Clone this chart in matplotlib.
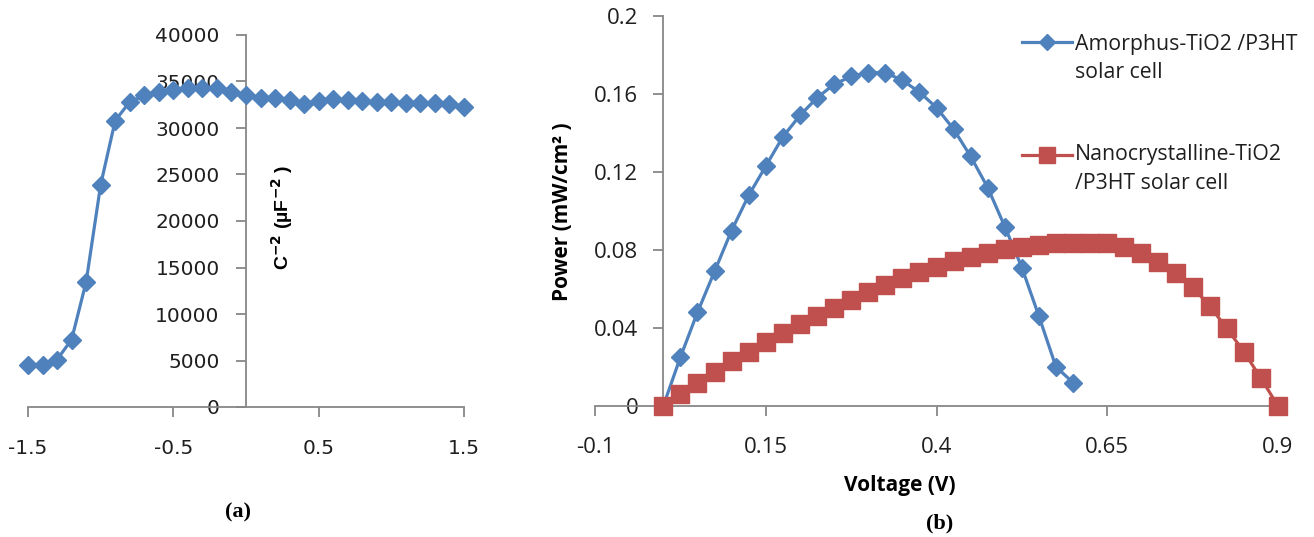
import matplotlib
matplotlib.use("Agg")
import matplotlib.pyplot as plt
from matplotlib.lines import Line2D

# ---- data: panel (a) Mott-Schottky ----
bias_v = [-1.5, -1.4, -1.3, -1.2, -1.1, -1.0, -0.9, -0.8, -0.7, -0.6, -0.5,
          -0.4, -0.3, -0.2, -0.1, 0.0, 0.1, 0.2, 0.3, 0.4, 0.5, 0.6, 0.7,
          0.8, 0.9, 1.0, 1.1, 1.2, 1.3, 1.4, 1.5]
c_inv2 = [4500, 4500, 5100, 7250, 13450, 23900, 30800, 32800, 33500, 33850, 34100,
          34250, 34300, 34250, 33900, 33550, 33250, 33250, 33000, 32600, 32850,
          33100, 33050, 32900, 32800, 32800, 32700, 32700, 32700, 32600, 32250]
a_xticks = [-1.5, -0.5, 0.5, 1.5]
a_xticklabels = ["-1.5", "-0.5", "0.5", "1.5"]
a_yticks = [0, 5000, 10000, 15000, 20000, 25000, 30000, 35000, 40000]

# ---- data: panel (b) power curves ----
amor_v = [0.0, 0.025, 0.05, 0.075, 0.1, 0.125, 0.15, 0.175, 0.2, 0.225, 0.25,
          0.275, 0.3, 0.325, 0.35, 0.375, 0.4, 0.425, 0.45, 0.475, 0.5, 0.525,
          0.55, 0.575, 0.6]
amor_p = [0.0, 0.025, 0.048, 0.069, 0.090, 0.108, 0.123, 0.138, 0.149, 0.158, 0.165,
          0.169, 0.171, 0.171, 0.167, 0.161, 0.153, 0.142, 0.128, 0.112, 0.092, 0.071,
          0.046, 0.020, 0.012]
nano_v = [0.0, 0.025, 0.05, 0.075, 0.1, 0.125, 0.15, 0.175, 0.2, 0.225, 0.25,
          0.275, 0.3, 0.325, 0.35, 0.375, 0.4, 0.425, 0.45, 0.475, 0.5, 0.525,
          0.55, 0.575, 0.6, 0.625, 0.65, 0.675, 0.7, 0.725, 0.75, 0.775, 0.8,
          0.825, 0.85, 0.875, 0.9]
nano_p = [0.0, 0.006, 0.0116, 0.0173, 0.0231, 0.0279, 0.0327, 0.0373, 0.0419, 0.0462, 0.0504,
          0.0545, 0.0586, 0.0623, 0.0655, 0.0685, 0.0712, 0.0742, 0.0766, 0.0786, 0.0805, 0.0817,
          0.0826, 0.0834, 0.0838, 0.0838, 0.0834, 0.0817, 0.0783, 0.0740, 0.0680, 0.0609, 0.0513,
          0.0398, 0.0279, 0.0142, 0.0]
b_xticks = [-0.1, 0.15, 0.4, 0.65, 0.9]
b_xticklabels = ["-0.1", "0.15", "0.4", "0.65", "0.9"]
b_yticks = [0, 0.04, 0.08, 0.12, 0.16, 0.2]
b_yticklabels = ["0", "0.04", "0.08", "0.12", "0.16", "0.2"]
legend_lines = [["Amorphus-TiO2 /P3HT", "solar cell"],
                ["Nanocrystalline-TiO2", "/P3HT solar cell"]]

BLUE = "#4F81BD"
RED = "#C0504D"
AXC = "#878787"
TXT = "#1f1f1f"

W, H = 1314, 537
fig = plt.figure(figsize=(W / 100, H / 100), dpi=100)
fig.patch.set_facecolor("white")


def fx(px):
    return px / W


def fy(py):
    return 1 - py / H


def style_axes(ax):
    for s in ["top", "right"]:
        ax.spines[s].set_visible(False)
    ax.spines["left"].set_position(("data", 0))
    for s in ["left", "bottom"]:
        ax.spines[s].set_color(AXC)
        ax.spines[s].set_linewidth(1.3)


# ---------------- panel (a) ----------------
axa = fig.add_axes([fx(28), fy(407), fx(464 - 28), (407 - 35) / H])
axa.plot(bias_v, c_inv2, color=BLUE, lw=2.3, marker="D", ms=9,
         mec=BLUE, mfc=BLUE, clip_on=False, zorder=3)
axa.set_xlim(-1.5, 1.5)
axa.set_ylim(0, 40000)
style_axes(axa)
axa.set_xticks(a_xticks)
axa.set_xticklabels(a_xticklabels)
axa.set_yticks(a_yticks)
axa.set_yticklabels([str(v) for v in a_yticks])
axa.tick_params(axis="both", direction="out", length=7, width=1.3, color=AXC,
                labelsize=14.5, labelcolor=TXT)
axa.tick_params(axis="y", pad=12)
axa.tick_params(axis="x", pad=16)
for t in axa.get_xticklabels() + axa.get_yticklabels():
    t.set_fontfamily("DejaVu Sans")
fig.text(fx(282), fy(217), r"C$^{\mathbf{-2}}$ (µF$^{\mathbf{-2}}$ )", rotation=90,
         ha="center", va="center", fontsize=14, fontweight="bold",
         family=["Liberation Sans", "DejaVu Sans"])
fig.text(fx(238), fy(512), "(a)", ha="center", va="center", fontsize=16,
         fontweight="bold", family=["Liberation Serif", "DejaVu Serif"])

# ---------------- panel (b) ----------------
axb = fig.add_axes([fx(595), fy(406), fx(1278 - 595), (406 - 16) / H])
axb.plot(amor_v, amor_p, color=BLUE, lw=2.3, marker="D", ms=9,
         mec=BLUE, mfc=BLUE, clip_on=False, zorder=3)
axb.plot(nano_v, nano_p, color=RED, lw=2.3, marker="s", ms=12.5,
         mec=RED, mfc=RED, clip_on=False, zorder=4)
axb.set_xlim(-0.1, 0.9)
axb.set_ylim(0, 0.2)
style_axes(axb)
axb.set_xticks(b_xticks)
axb.set_xticklabels(b_xticklabels)
axb.set_yticks(b_yticks)
axb.set_yticklabels(b_yticklabels)
axb.tick_params(axis="both", direction="out", length=7, width=1.3, color=AXC,
                labelsize=16, labelcolor=TXT)
axb.tick_params(axis="y", pad=11)
axb.tick_params(axis="x", pad=15)
for t in axb.get_xticklabels() + axb.get_yticklabels():
    t.set_fontfamily("Open Sans")
fig.text(fx(563), fy(212), "Power (mW/cm² )", rotation=90, ha="center", va="center",
         fontsize=15, fontweight="bold", family=["Open Sans", "DejaVu Sans"])
fig.text(fx(900), fy(486), "Voltage (V)", ha="center", va="center",
         fontsize=15, fontweight="bold", family=["Open Sans", "DejaVu Sans"])
fig.text(fx(940), fy(523), "(b)", ha="center", va="center", fontsize=16,
         fontweight="bold", family=["Liberation Serif", "DejaVu Serif"])

# ---------------- legend (Excel style: handle beside the first line) ----------------
leg_specs = [(BLUE, "D", 8, 42, 50, 78, legend_lines[0]),
             (RED, "s", 11.5, 155, 160, 189, legend_lines[1])]
for color, mk, ms, hy, b1, b2, lines in leg_specs:
    fig.add_artist(Line2D([fx(1022), fx(1072)], [fy(hy), fy(hy)], color=color, lw=2.3,
                          transform=fig.transFigure))
    fig.add_artist(Line2D([fx(1047)], [fy(hy)], color=color, marker=mk, ms=ms,
                          mec=color, mfc=color, transform=fig.transFigure))
    fig.text(fx(1075), fy(b1), lines[0], ha="left", va="baseline", fontsize=15.3,
             color=TXT, family=["Open Sans", "DejaVu Sans"])
    fig.text(fx(1075), fy(b2), lines[1], ha="left", va="baseline", fontsize=15.3,
             color=TXT, family=["Open Sans", "DejaVu Sans"])

fig.savefig("out.png", dpi=100, facecolor="white")
